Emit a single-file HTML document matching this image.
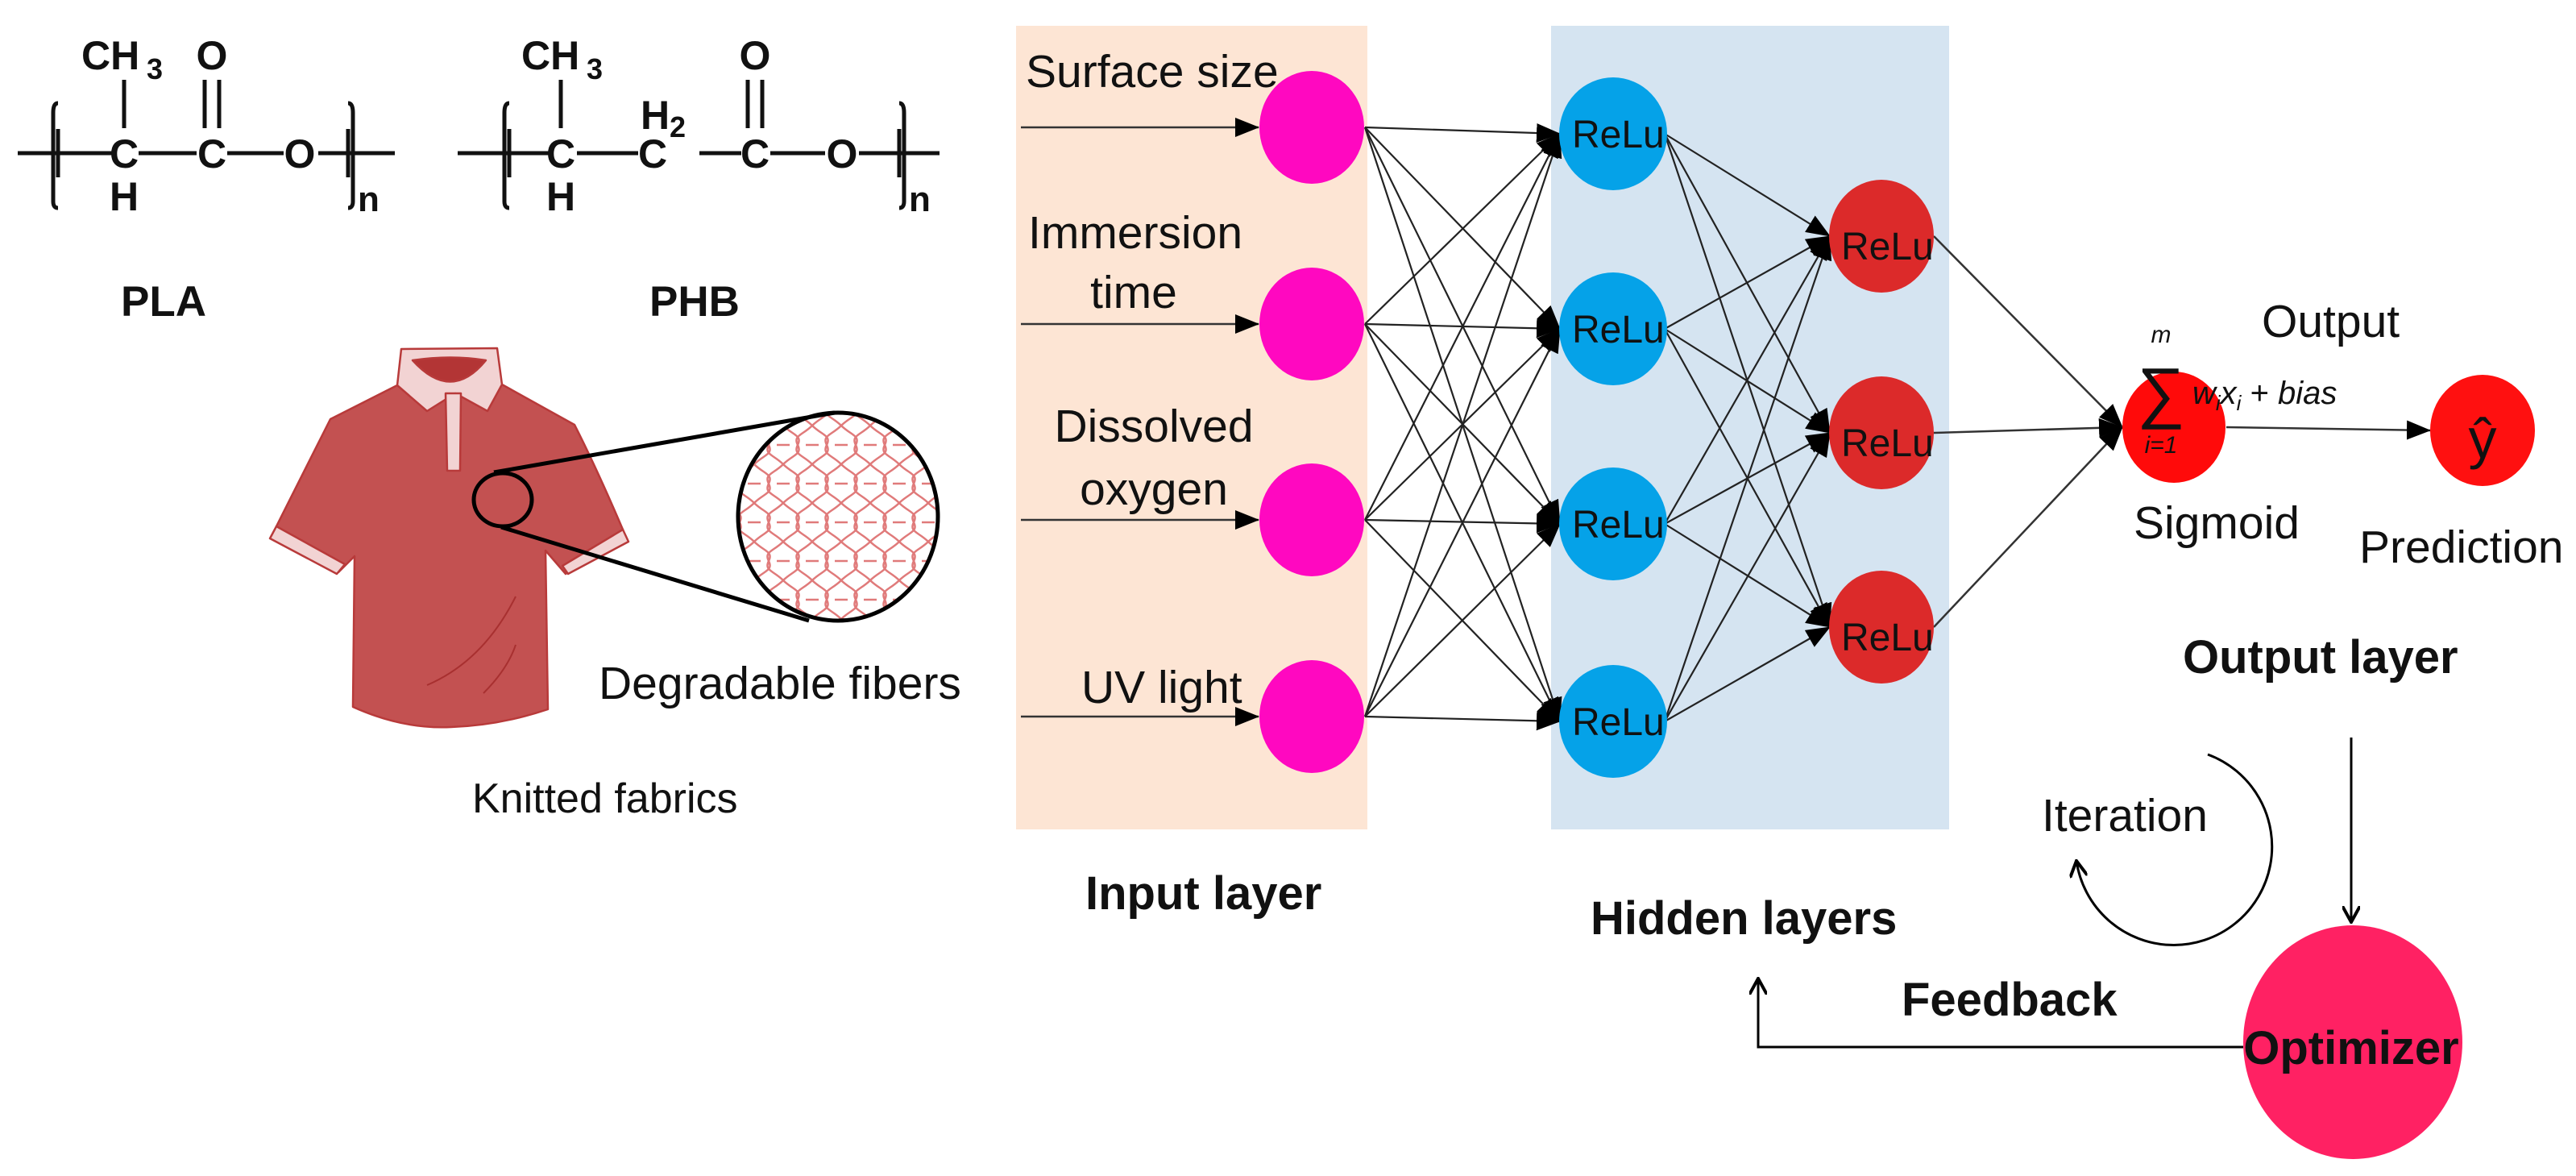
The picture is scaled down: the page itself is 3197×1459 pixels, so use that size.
<!DOCTYPE html>
<html><head><meta charset="utf-8"><style>
html,body{margin:0;padding:0;background:#fff;}
svg{display:block;}
text{font-family:"Liberation Sans",Arial,sans-serif;}
</style></head><body>
<svg width="3197" height="1459" viewBox="0 0 3197 1459" xmlns="http://www.w3.org/2000/svg">
<defs>
<marker id="ab" markerWidth="30" markerHeight="24" refX="29" refY="12" orient="auto" markerUnits="userSpaceOnUse">
<path d="M0,0 L30,12 L0,24 Z" fill="#000"/></marker>
<marker id="ao" markerWidth="22" markerHeight="22" refX="20" refY="11" orient="auto" markerUnits="userSpaceOnUse">
<path d="M0,0 L20,11 L0,22" fill="none" stroke="#000" stroke-width="4"/></marker>
<clipPath id="cc"><ellipse cx="1040" cy="641" rx="124" ry="129"/></clipPath>
<pattern id="knit" width="36" height="48" patternUnits="userSpaceOnUse">
<path d="M0,0 C12,12 24,12 18,24 C12,36 24,36 36,48 M36,0 C24,12 12,12 18,24 C24,36 12,36 0,48 M0,24 H8 M28,24 H36" fill="none" stroke="#e07a7a" stroke-width="2.5"/>
</pattern>
</defs>

<g font-weight="bold" font-size="50" fill="#111">
<line x1="22" y1="190" x2="140" y2="190" stroke="#111" stroke-width="5"/>
<line x1="172" y1="190" x2="244" y2="190" stroke="#111" stroke-width="5"/>
<line x1="282" y1="190" x2="352" y2="190" stroke="#111" stroke-width="5"/>
<line x1="395" y1="190" x2="490" y2="190" stroke="#111" stroke-width="5"/>
<text x="154" y="208" text-anchor="middle">C</text>
<text x="263" y="208" text-anchor="middle">C</text>
<text x="372" y="208" text-anchor="middle">O</text>
<text x="101" y="86">CH</text><text x="182" y="98" font-size="36">3</text>
<text x="263" y="86" text-anchor="middle">O</text>
<text x="154" y="261" text-anchor="middle">H</text>
<line x1="154" y1="99" x2="154" y2="159" stroke="#111" stroke-width="5"/>
<line x1="254" y1="99" x2="254" y2="159" stroke="#111" stroke-width="5"/>
<line x1="272" y1="99" x2="272" y2="159" stroke="#111" stroke-width="5"/>
<path d="M72,128 Q66,128 66,140 V250 Q66,258 72,258" fill="none" stroke="#111" stroke-width="5"/>
<line x1="72" y1="160" x2="72" y2="220" stroke="#111" stroke-width="5"/>
<path d="M432,128 Q438,128 438,140 V250 Q438,258 432,258" fill="none" stroke="#111" stroke-width="5"/>
<line x1="432" y1="160" x2="432" y2="220" stroke="#111" stroke-width="5"/>
<text x="444" y="262" font-family="Liberation Serif,serif" font-size="44">n</text>
<text x="150" y="392" font-size="53">PLA</text>
</g>
<g font-weight="bold" font-size="50" fill="#111">
<line x1="568" y1="190" x2="682" y2="190" stroke="#111" stroke-width="5"/>
<line x1="716" y1="190" x2="792" y2="190" stroke="#111" stroke-width="5"/>
<line x1="868" y1="190" x2="920" y2="190" stroke="#111" stroke-width="5"/>
<line x1="956" y1="190" x2="1024" y2="190" stroke="#111" stroke-width="5"/>
<line x1="1066" y1="190" x2="1166" y2="190" stroke="#111" stroke-width="5"/>
<text x="696" y="208" text-anchor="middle">C</text>
<text x="810" y="208" text-anchor="middle">C</text>
<text x="937" y="208" text-anchor="middle">C</text>
<text x="1045" y="208" text-anchor="middle">O</text>
<text x="647" y="86">CH</text><text x="728" y="98" font-size="36">3</text>
<text x="795" y="160">H</text><text x="831" y="170" font-size="36">2</text>
<text x="937" y="86" text-anchor="middle">O</text>
<text x="696" y="261" text-anchor="middle">H</text>
<line x1="696" y1="99" x2="696" y2="159" stroke="#111" stroke-width="5"/>
<line x1="928" y1="99" x2="928" y2="159" stroke="#111" stroke-width="5"/>
<line x1="946" y1="99" x2="946" y2="159" stroke="#111" stroke-width="5"/>
<path d="M632,128 Q626,128 626,140 V250 Q626,258 632,258" fill="none" stroke="#111" stroke-width="5"/>
<line x1="632" y1="160" x2="632" y2="220" stroke="#111" stroke-width="5"/>
<path d="M1116,128 Q1122,128 1122,140 V250 Q1122,258 1116,258" fill="none" stroke="#111" stroke-width="5"/>
<line x1="1116" y1="160" x2="1116" y2="220" stroke="#111" stroke-width="5"/>
<text x="1128" y="262" font-family="Liberation Serif,serif" font-size="44">n</text>
<text x="806" y="392" font-size="53">PHB</text>
</g>

<g stroke="#b83a3a" stroke-width="2.5" stroke-linejoin="round">
<path d="M493,478 L410,520 Q390,560 343,653 L420,710 L440,690 L438,877 Q500,905 560,902 Q620,900 680,880 L677,683 L702,712 L773,657 Q740,580 713,527 L623,477 Z" fill="#c35151"/>
<path d="M343,653 L335,668 L418,712 L428,700 Z" fill="#f2d3d3"/>
<path d="M773,657 L780,672 L705,712 L698,702 Z" fill="#f2d3d3"/>
<path d="M498,433 L617,432 L623,477 L605,510 L565,488 L530,510 L493,478 Z" fill="#f2d3d3"/>
<path d="M512,447 Q560,500 603,447 Q560,440 512,447 Z" fill="#b33535"/>
<path d="M553,488 L572,488 L571,584 L555,584 Z" fill="#f2d3d3"/>
</g>
<path d="M530,850 Q600,820 640,740 M600,860 Q630,830 640,800" fill="none" stroke="#a83030" stroke-width="2"/>
<ellipse cx="1040" cy="641" rx="124" ry="129" fill="#fff"/>
<rect x="900" y="500" width="280" height="290" fill="url(#knit)" clip-path="url(#cc)"/>
<ellipse cx="1040" cy="641" rx="124" ry="129" fill="none" stroke="#000" stroke-width="5"/>
<ellipse cx="624" cy="620" rx="36" ry="33" fill="none" stroke="#000" stroke-width="5"/>
<line x1="613" y1="586" x2="1036" y2="512" stroke="#000" stroke-width="5"/>
<line x1="622" y1="654" x2="1004" y2="770" stroke="#000" stroke-width="5"/>
<text x="743" y="867" font-size="57" fill="#111">Degradable fibers</text>
<text x="586" y="1008" font-size="52" fill="#111">Knitted fabrics</text>

<rect x="1261" y="32" width="436" height="997" fill="#fde5d4"/>
<rect x="1925" y="32" width="494" height="997" fill="#d5e4f1"/>

<g stroke="#333" stroke-width="2.5" marker-end="url(#ab)">
<line x1="1267" y1="158" x2="1562" y2="158"/>
<line x1="1267" y1="402" x2="1562" y2="402"/>
<line x1="1267" y1="645" x2="1562" y2="645"/>
<line x1="1267" y1="889" x2="1562" y2="889"/>
</g>
<g font-size="57" fill="#111">
<text x="1273" y="108">Surface size</text>
<text x="1276" y="308">Immersion</text>
<text x="1407" y="382" text-anchor="middle">time</text>
<text x="1432" y="548" text-anchor="middle">Dissolved</text>
<text x="1432" y="626" text-anchor="middle">oxygen</text>
<text x="1342" y="872">UV light</text>
</g>

<g stroke="#222" stroke-width="2.2" marker-end="url(#ab)">
<line x1="1694" y1="158" x2="1936" y2="166"/><line x1="1694" y1="158" x2="1936" y2="408"/><line x1="1694" y1="158" x2="1936" y2="650"/><line x1="1694" y1="158" x2="1936" y2="895"/>
<line x1="1694" y1="402" x2="1936" y2="166"/><line x1="1694" y1="402" x2="1936" y2="408"/><line x1="1694" y1="402" x2="1936" y2="650"/><line x1="1694" y1="402" x2="1936" y2="895"/>
<line x1="1694" y1="645" x2="1936" y2="166"/><line x1="1694" y1="645" x2="1936" y2="408"/><line x1="1694" y1="645" x2="1936" y2="650"/><line x1="1694" y1="645" x2="1936" y2="895"/>
<line x1="1694" y1="889" x2="1936" y2="166"/><line x1="1694" y1="889" x2="1936" y2="408"/><line x1="1694" y1="889" x2="1936" y2="650"/><line x1="1694" y1="889" x2="1936" y2="895"/>
</g>
<g stroke="#222" stroke-width="2.2" marker-end="url(#ab)">
<line x1="2066" y1="166" x2="2271" y2="293"/><line x1="2066" y1="166" x2="2271" y2="537"/><line x1="2066" y1="166" x2="2271" y2="778"/>
<line x1="2066" y1="408" x2="2271" y2="293"/><line x1="2066" y1="408" x2="2271" y2="537"/><line x1="2066" y1="408" x2="2271" y2="778"/>
<line x1="2066" y1="650" x2="2271" y2="293"/><line x1="2066" y1="650" x2="2271" y2="537"/><line x1="2066" y1="650" x2="2271" y2="778"/>
<line x1="2066" y1="895" x2="2271" y2="293"/><line x1="2066" y1="895" x2="2271" y2="537"/><line x1="2066" y1="895" x2="2271" y2="778"/>
</g>
<g stroke="#333" stroke-width="2.5" marker-end="url(#ab)">
<line x1="2400" y1="293" x2="2634" y2="530"/><line x1="2400" y1="537" x2="2634" y2="530"/><line x1="2400" y1="778" x2="2634" y2="530"/>
<line x1="2763" y1="530" x2="3016" y2="534"/>
</g>

<g fill="#ff08c0">
<ellipse cx="1628" cy="158" rx="65" ry="70"/><ellipse cx="1628" cy="402" rx="65" ry="70"/><ellipse cx="1628" cy="645" rx="65" ry="70"/><ellipse cx="1628" cy="889" rx="65" ry="70"/>
</g>
<g fill="#05a2e8">
<ellipse cx="2002" cy="166" rx="67" ry="70"/><ellipse cx="2002" cy="408" rx="67" ry="70"/><ellipse cx="2002" cy="650" rx="67" ry="70"/><ellipse cx="2002" cy="895" rx="67" ry="70"/>
</g>
<g fill="#dc2a2a">
<ellipse cx="2335" cy="293" rx="65" ry="70"/><ellipse cx="2335" cy="537" rx="65" ry="70"/><ellipse cx="2335" cy="778" rx="65" ry="70"/>
</g>
<g font-size="48" fill="#111">
<text x="1951" y="183">ReLu</text><text x="1951" y="425">ReLu</text><text x="1951" y="667">ReLu</text><text x="1951" y="912">ReLu</text>
<text x="2285" y="322">ReLu</text><text x="2285" y="566">ReLu</text><text x="2285" y="807">ReLu</text>
</g>

<ellipse cx="2698" cy="530" rx="64" ry="69" fill="#ff0a0a"/>
<ellipse cx="3081" cy="534" rx="65" ry="69" fill="#ff1010"/>
<g font-family="Liberation Serif,serif" font-style="italic" fill="#111">
<text x="2682" y="425" font-size="30" text-anchor="middle">m</text>
<text x="2682" y="515" font-size="84" font-style="normal" text-anchor="middle">∑</text>
<text x="2682" y="562" font-size="30" text-anchor="middle">i=1</text>
<text x="2721" y="501" font-size="40">w<tspan font-size="26" dy="8">i</tspan><tspan dy="-8">x</tspan><tspan font-size="26" dy="8">i</tspan><tspan dy="-8" font-style="normal"> + </tspan>bias</text>
<text x="3081" y="568" font-size="70" font-style="normal" text-anchor="middle">ŷ</text>
</g>
<g font-size="57" fill="#111">
<text x="2807" y="418">Output</text>
<text x="2648" y="668">Sigmoid</text>
<text x="2928" y="698">Prediction</text>
<text x="2534" y="1031">Iteration</text>
</g>
<g font-weight="bold" font-size="58" fill="#111">
<text x="2709" y="835">Output layer</text>
<text x="1347" y="1128">Input layer</text>
<text x="1974" y="1159">Hidden layers</text>
<text x="2360" y="1260">Feedback</text>
</g>

<path d="M2740,936 A122,122 0 1 1 2577,1068" fill="none" stroke="#000" stroke-width="3" marker-end="url(#ao)"/>
<line x1="2918" y1="915" x2="2918" y2="1144" stroke="#000" stroke-width="3" marker-end="url(#ao)"/>
<ellipse cx="2920" cy="1293" rx="136" ry="145" fill="#ff2163"/>
<polyline points="2784,1299 2182,1299 2182,1214" fill="none" stroke="#000" stroke-width="3" marker-end="url(#ao)"/>
<text x="2918" y="1320" font-weight="bold" font-size="58" fill="#111" text-anchor="middle">Optimizer</text>
</svg>
</body></html>
